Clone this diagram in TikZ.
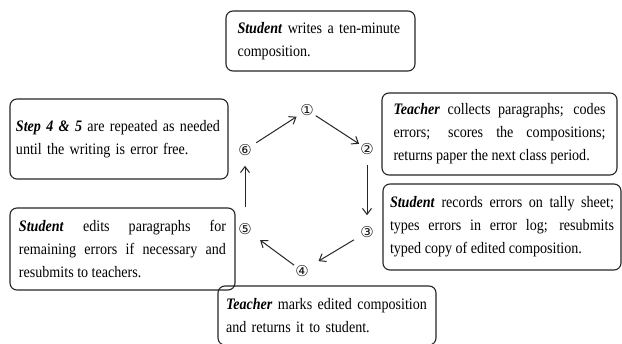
\documentclass[tikz,border=0pt]{standalone}
\usepackage{fontspec}
\setmainfont{Liberation Serif}[FakeStretch=0.88]
\newfontfamily\circfont{DejaVu Sans}
\usetikzlibrary{arrows.meta}
\begin{document}
\begin{tikzpicture}[x=1pt,y=-1pt,
  box/.style={draw=black!85, line width=1.1pt, rounded corners=7pt,
    inner xsep=0pt, inner ysep=0pt, text=black,
    font=\fontsize{16}{23}\selectfont},
  num/.style={font=\circfont\fontsize{15}{15}\selectfont, inner sep=1pt, text=black!90},
  arr/.style={-{Straight Barb[length=6pt,width=9pt,line width=1pt]}, line width=1pt, draw=black!85}]
\useasboundingbox (0,0) rectangle (622,344);
\fill[white] (0,0) rectangle (622,344);
% boxes
\node[box, minimum width=189pt, minimum height=60pt, text width=166pt, align=left] (b1) at (320.5,41)
  {\textbf{\textit{Student}} writes a ten-minute\\composition.};
\node[box, minimum width=218pt, minimum height=80pt, text width=206pt, align=left] (b6) at (119,139)
  {\textbf{\textit{Step 4 \& 5}} are repeated as needed\\until the writing is error free.};
\node[box, minimum width=235pt, minimum height=82pt, text width=212pt, align=justify] (b2) at (499.5,134)
  {\textbf{\textit{Teacher}} collects paragraphs; codes\linebreak errors; scores the compositions;\linebreak returns paper the next class period.};
\node[box, minimum width=238pt, minimum height=86pt, text width=224pt, align=justify] (b3) at (502,227)
  {\textbf{\textit{Student}} records errors on tally sheet;\linebreak types errors in error log; resubmits\linebreak typed copy of edited composition.};
\node[box, minimum width=225pt, minimum height=82pt, text width=207pt, align=justify] (b5) at (122.5,249)
  {\textbf{\textit{Student}} edits paragraphs for\linebreak remaining errors if necessary and\linebreak resubmits to teachers.};
\node[box, minimum width=218pt, minimum height=59pt, text width=202pt, align=left] (b4) at (327,315.5)
  {\textbf{\textit{Teacher}} marks edited composition\\and returns it to student.};
% numbers
\node[num] (n1) at (307,110) {①};
\node[num] (n2) at (367,149) {②};
\node[num] (n3) at (367,232) {③};
\node[num] (n4) at (302,271) {④};
\node[num] (n5) at (245,229) {⑤};
\node[num] (n6) at (245,150) {⑥};
% arrows
\draw[arr, shorten <=4pt, shorten >=3pt] (n6) -- (n1);
\draw[arr, shorten <=1pt, shorten >=0pt] (n1) -- (n2);
\draw[arr, shorten <=9pt, shorten >=10pt] (n2) -- (n3);
\draw[arr, shorten <=6pt, shorten >=10pt] (n3) -- (n4);
\draw[arr, shorten <=0pt, shorten >=9pt] (n4) -- (n5);
\draw[arr, shorten <=15pt, shorten >=9pt] (n5) -- (n6);
\end{tikzpicture}
\end{document}
